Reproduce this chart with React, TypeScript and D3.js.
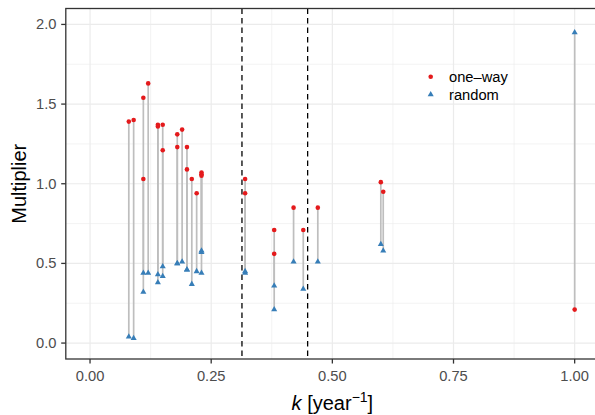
import React from "react";
import * as d3 from "d3";

// ---- data ----
const kValues = [0.08, 0.09, 0.11, 0.11, 0.12, 0.14, 0.14, 0.15, 0.15, 0.18, 0.18, 0.19, 0.2, 0.2, 0.21, 0.22, 0.23, 0.23, 0.23, 0.32, 0.32, 0.38, 0.38, 0.42, 0.44, 0.47, 0.6, 0.605, 1.0];
const oneWay = [1.39, 1.4, 1.54, 1.03, 1.63, 1.37, 1.36, 1.37, 1.21, 1.31, 1.23, 1.34, 1.23, 1.09, 1.03, 0.94, 1.07, 1.06, 1.05, 1.03, 0.94, 0.71, 0.56, 0.85, 0.71, 0.85, 1.01, 0.95, 0.21];
const randomVals = [0.04, 0.03, 0.44, 0.32, 0.44, 0.43, 0.38, 0.48, 0.42, 0.5, 0.5, 0.51, 0.46, 0.46, 0.37, 0.45, 0.58, 0.57, 0.44, 0.45, 0.44, 0.36, 0.21, 0.51, 0.34, 0.51, 0.62, 0.58, 1.95];
const dashedK = [0.3135, 0.449];
const xTicks = [0, 0.25, 0.5, 0.75, 1.0];
const xMinor = [0.125, 0.375, 0.625, 0.875];
const yTicks = [0, 0.5, 1.0, 1.5, 2.0];
const yMinor = [0.25, 0.75, 1.25, 1.75];
const legendLabels = ["one\u2013way", "random"];

const W = 595;
const H = 415;
const PL = 65.8, PR = 598.9, PT = 8.5, PB = 359;
const RED = "#E41A1C";
const BLUE = "#377EB8";
const FONT = "'Liberation Sans', Arial, Helvetica, sans-serif";

export default function App() {
  const x = d3.scaleLinear().domain([-0.05, 1.05]).range([PL, PR]);
  const y = d3.scaleLinear().domain([-0.1, 2.1]).range([PB, PT]);
  const tri = d3.symbol().type(d3.symbolTriangle).size(16)();
  const data = kValues.map((k, i) => ({ k, o: oneWay[i], r: randomVals[i] }));

  return (
    <svg width={W} height={H} style={{ position: "absolute", left: 0, top: 0, background: "#fff" }} fontFamily={FONT}>
      <defs>
        <clipPath id="panel">
          <rect x={PL} y={PT} width={PR - PL} height={PB - PT} />
        </clipPath>
      </defs>
      <rect x={0} y={0} width={W} height={H} fill="#fff" />
      <g clipPath="url(#panel)">
        {xMinor.map((t) => (
          <line key={"xm" + t} x1={x(t)} x2={x(t)} y1={PT} y2={PB} stroke="#EBEBEB" strokeWidth={0.6} />
        ))}
        {yMinor.map((t) => (
          <line key={"ym" + t} x1={PL} x2={PR} y1={y(t)} y2={y(t)} stroke="#EBEBEB" strokeWidth={0.6} />
        ))}
        {xTicks.map((t) => (
          <line key={"xg" + t} x1={x(t)} x2={x(t)} y1={PT} y2={PB} stroke="#EBEBEB" strokeWidth={1.2} />
        ))}
        {yTicks.map((t) => (
          <line key={"yg" + t} x1={PL} x2={PR} y1={y(t)} y2={y(t)} stroke="#EBEBEB" strokeWidth={1.2} />
        ))}
        {dashedK.map((k) => (
          <line key={"d" + k} x1={x(k)} x2={x(k)} y1={PT} y2={PB} stroke="#000" strokeWidth={1.3} strokeDasharray="5.5 4" />
        ))}
        {data.map((d, i) => (
          <line key={"s" + i} x1={x(d.k)} x2={x(d.k)} y1={y(d.o)} y2={y(d.r)} stroke="#BEBEBE" strokeWidth={1.7} />
        ))}
        {data.map((d, i) => (
          <circle key={"o" + i} cx={x(d.k)} cy={y(d.o)} r={2.3} fill={RED} />
        ))}
        {data.map((d, i) => (
          <path key={"r" + i} d={tri as string} transform={`translate(${x(d.k)},${y(d.r)})`} fill={BLUE} />
        ))}
        {/* legend */}
        <circle cx={430.7} cy={76.7} r={2.3} fill={RED} />
        <path d={tri as string} transform="translate(430.7,94.5)" fill={BLUE} />
        <text x={449} y={77} dominantBaseline="central" fontSize={14.7} fill="#000">{legendLabels[0]}</text>
        <text x={449} y={94.5} dominantBaseline="central" fontSize={14.7} fill="#000">{legendLabels[1]}</text>
      </g>
      <rect x={PL} y={PT} width={PR - PL} height={PB - PT} fill="none" stroke="#333333" strokeWidth={1.3} />
      {xTicks.map((t) => (
        <g key={"xt" + t}>
          <line x1={x(t)} x2={x(t)} y1={PB} y2={PB + 4.6} stroke="#333333" strokeWidth={1.3} />
          <text x={x(t)} y={381} textAnchor="middle" fontSize={14.7} fill="#4D4D4D">{d3.format(".2f")(t)}</text>
        </g>
      ))}
      {yTicks.map((t) => (
        <g key={"yt" + t}>
          <line x1={PL - 4.6} x2={PL} y1={y(t)} y2={y(t)} stroke="#333333" strokeWidth={1.3} />
          <text x={56.5} y={y(t)} textAnchor="end" dominantBaseline="central" fontSize={14.7} fill="#4D4D4D">{d3.format(".1f")(t)}</text>
        </g>
      ))}
      <text x={332.4} y={410} textAnchor="middle" fontSize={20} fill="#000">
        <tspan fontStyle="italic">k</tspan>
        <tspan> [year</tspan>
        <tspan fontSize={14} dy={-8}>{"\u22121"}</tspan>
        <tspan dy={8}>]</tspan>
      </text>
      <text transform={`translate(25.5,${(PT + PB) / 2}) rotate(-90)`} textAnchor="middle" fontSize={20} fill="#000">Multiplier</text>
    </svg>
  );
}
